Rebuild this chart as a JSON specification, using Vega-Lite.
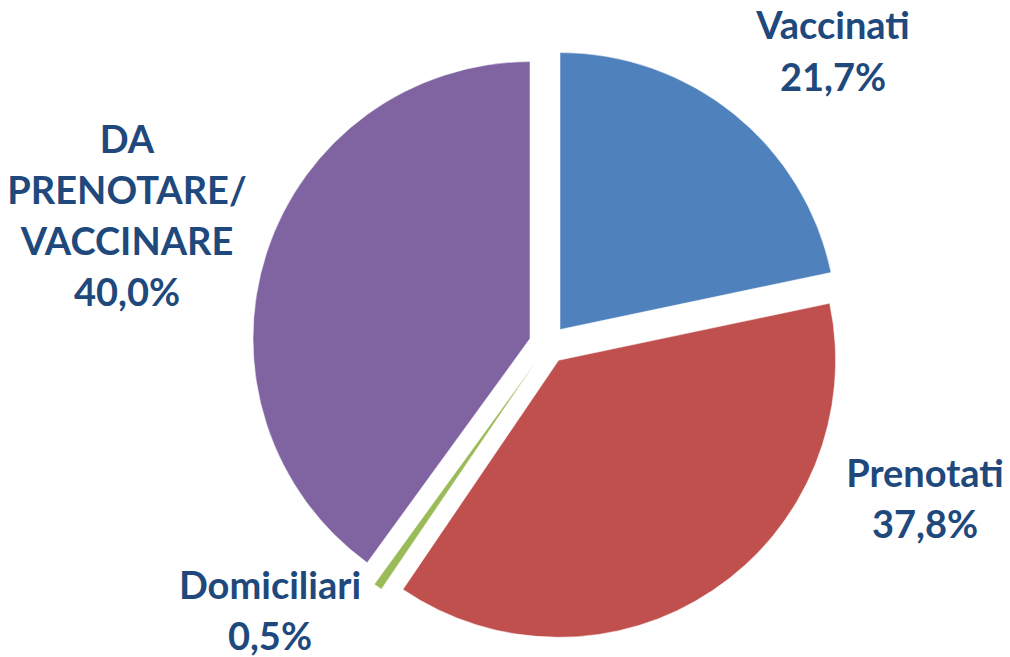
{
  "$schema": "https://vega.github.io/schema/vega-lite/v6.json",
  "width": 924,
  "height": 625,
  "padding": {"left": 86, "top": 32, "right": 0, "bottom": 0},
  "autosize": {"type": "none"},
  "background": "white",
  "view": {"stroke": null},
  "data": {
    "values": [
      {"cat": "Vaccinati", "value": 21.7, "label": "Vaccinati\n21,7%"},
      {"cat": "Prenotati", "value": 37.8, "label": "Prenotati\n37,8%"},
      {"cat": "Domiciliari", "value": 0.5, "label": "Domiciliari\n0,5%"},
      {"cat": "DA PRENOTARE/VACCINARE", "value": 40.0, "label": "DA\nPRENOTARE/\nVACCINARE\n40,0%"}
    ]
  },
  "transform": [{"stack": "value", "groupby": [], "as": ["v0", "v1"]}],
  "layer": [
    {
      "transform": [{"filter": "datum.cat === 'Vaccinati'"}],
      "mark": {"type": "arc", "radius": 277, "xOffset": 12, "yOffset": -15, "stroke": "#ffffff", "strokeWidth": 0.5},
      "encoding": {
        "theta": {"field": "v0", "type": "quantitative", "scale": {"domain": [0, 100]}},
        "theta2": {"field": "v1"},
        "color": {"field": "cat", "type": "nominal", "legend": null,
          "scale": {"domain": ["Vaccinati", "Prenotati", "Domiciliari", "DA PRENOTARE/VACCINARE"], "range": ["#4F81BD", "#C0504D", "#9BBB59", "#8064A2"]}}
      }
    },
    {
      "transform": [{"filter": "datum.cat === 'Prenotati'"}],
      "mark": {"type": "arc", "radius": 277, "xOffset": 10.6, "yOffset": 15.8, "stroke": "#ffffff", "strokeWidth": 0.5},
      "encoding": {
        "theta": {"field": "v0", "type": "quantitative", "scale": {"domain": [0, 100]}},
        "theta2": {"field": "v1"},
        "color": {"field": "cat", "type": "nominal", "legend": null}
      }
    },
    {
      "transform": [{"filter": "datum.cat === 'Domiciliari'"}],
      "mark": {"type": "arc", "radius": 277, "xOffset": -10.9, "yOffset": 15.6, "stroke": "#ffffff", "strokeWidth": 0.5},
      "encoding": {
        "theta": {"field": "v0", "type": "quantitative", "scale": {"domain": [0, 100]}},
        "theta2": {"field": "v1"},
        "color": {"field": "cat", "type": "nominal", "legend": null}
      }
    },
    {
      "transform": [{"filter": "datum.cat === 'DA PRENOTARE/VACCINARE'"}],
      "mark": {"type": "arc", "radius": 277, "xOffset": -18, "yOffset": -5.9, "stroke": "#ffffff", "strokeWidth": 0.5},
      "encoding": {
        "theta": {"field": "v0", "type": "quantitative", "scale": {"domain": [0, 100]}},
        "theta2": {"field": "v1"},
        "color": {"field": "cat", "type": "nominal", "legend": null}
      }
    },
    {
      "transform": [{"filter": "datum.cat === 'Vaccinati'"}],
      "mark": {"type": "text", "dx": 285, "dy": -306, "align": "center", "baseline": "alphabetic", "font": "Lato", "fontWeight": "bold", "fontSize": 38, "lineHeight": 52, "color": "#1F497D", "lineBreak": "\n"},
      "encoding": {"text": {"field": "label"}}
    },
    {
      "transform": [{"filter": "datum.cat === 'Prenotati'"}],
      "mark": {"type": "text", "dx": 377, "dy": 142, "align": "center", "baseline": "alphabetic", "font": "Lato", "fontWeight": "bold", "fontSize": 38, "lineHeight": 51, "color": "#1F497D", "lineBreak": "\n"},
      "encoding": {"text": {"field": "label"}}
    },
    {
      "transform": [{"filter": "datum.cat === 'Domiciliari'"}],
      "mark": {"type": "text", "dx": -278, "dy": 254, "align": "center", "baseline": "alphabetic", "font": "Lato", "fontWeight": "bold", "fontSize": 38, "lineHeight": 51, "color": "#1F497D", "lineBreak": "\n"},
      "encoding": {"text": {"field": "label"}}
    },
    {
      "transform": [{"filter": "datum.cat === 'DA PRENOTARE/VACCINARE'"}],
      "mark": {"type": "text", "dx": -421, "dy": -192, "align": "center", "baseline": "alphabetic", "font": "Lato", "fontWeight": "bold", "fontSize": 38, "lineHeight": 51, "color": "#1F497D", "lineBreak": "\n"},
      "encoding": {"text": {"field": "label"}}
    }
  ]
}
